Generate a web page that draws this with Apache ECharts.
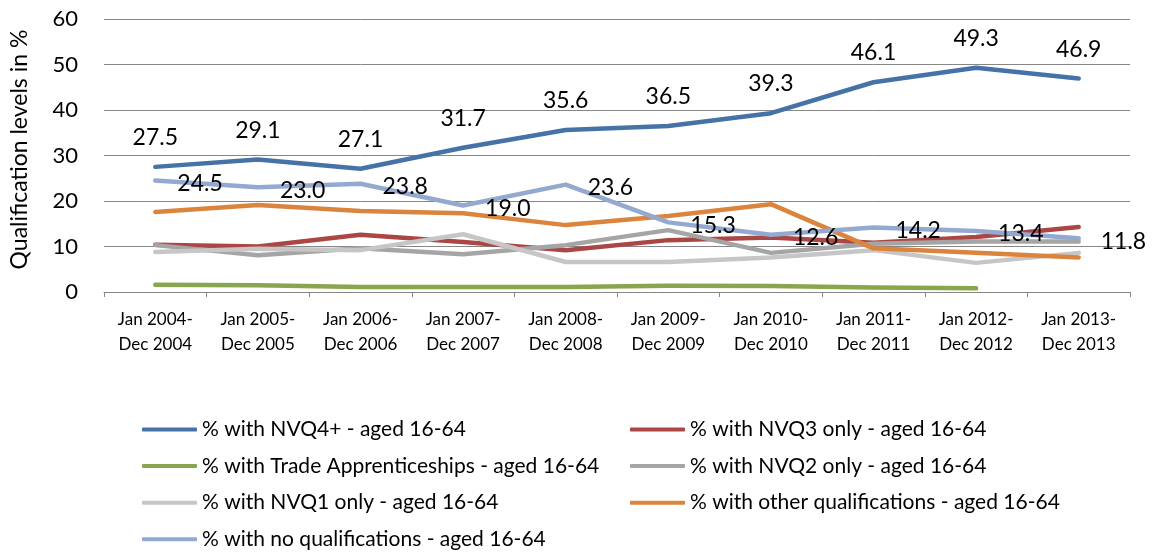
<!DOCTYPE html>
<html>
<head>
<meta charset="utf-8">
<script src="https://cdn.jsdelivr.net/npm/echarts@6/dist/echarts.min.js"></script>
<style>
    html, body { margin: 0; padding: 0; background: #fff; }
    #chart { width: 1155px; height: 552px; }
</style>
</head>
<body>
<div id="chart"></div>
<script>
// qualification levels, 16-64 year olds
var categories = ['Jan 2004-\nDec 2004', 'Jan 2005-\nDec 2005', 'Jan 2006-\nDec 2006', 'Jan 2007-\nDec 2007',
    'Jan 2008-\nDec 2008', 'Jan 2009-\nDec 2009', 'Jan 2010-\nDec 2010', 'Jan 2011-\nDec 2011',
    'Jan 2012-\nDec 2012', 'Jan 2013-\nDec 2013'];
var nvq4 = [27.5, 29.1, 27.1, 31.7, 35.6, 36.5, 39.3, 46.1, 49.3, 46.9];
var nvq3 = [10.4, 10.0, 12.6, 11.0, 9.2, 11.4, 12.0, 10.8, 12.1, 14.3];
var trade = [1.6, 1.5, 1.1, 1.1, 1.1, 1.4, 1.3, 1.0, 0.8, null];
var nvq2 = [10.3, 8.1, 9.6, 8.3, 10.3, 13.6, 8.6, 10.6, 11.1, 11.1];
var nvq1 = [8.8, 9.5, 9.2, 12.7, 6.6, 6.6, 7.6, 9.2, 6.4, 8.6];
var other = [17.6, 19.1, 17.8, 17.3, 14.7, 16.7, 19.3, 9.6, 8.6, 7.6];
var noqual = [24.5, 23.0, 23.8, 19.0, 23.6, 15.3, 12.6, 14.2, 13.4, 11.8];
var yTicks = [0, 10, 20, 30, 40, 50, 60];

var names = ['% with NVQ4+ - aged 16-64', '% with NVQ3 only - aged 16-64',
    '% with Trade Apprenticeships - aged 16-64', '% with NVQ2 only - aged 16-64',
    '% with NVQ1 only - aged 16-64', '% with other qualifications - aged 16-64',
    '% with no qualifications - aged 16-64'];
var colors = ['#4572A7', '#AA4643', '#89A54E', '#A5A5A5', '#C6C6C6', '#DB843D', '#93A9CF'];
var values = [nvq4, nvq3, trade, nvq2, nvq1, other, noqual];

var font = 'Lato, "Liberation Sans", sans-serif';

function fmt(p) {
    return p.value.toFixed(1);
}

var series = [];
for (var i = 0; i < values.length; i++) {
    var s = {
        name: names[i],
        type: 'line',
        data: values[i],
        symbol: 'none',
        smooth: false,
        animation: false,
        lineStyle: { width: 4.5, color: colors[i], cap: 'round', join: 'round' },
        itemStyle: { color: colors[i] }
    };
    if (i == 0 || i == 6) {
        // labels need a symbol, keep it invisible
        s.symbol = 'circle';
        s.symbolSize = 0;
        s.showSymbol = true;
        s.label = { show: true, position: 'top', distance: 18, formatter: fmt,
            fontFamily: font, fontSize: 23, color: '#000' };
        if (i == 6) {
            s.label.position = 'right';
            s.label.distance = 22;
            s.label.offset = [0, 3];
        }
    }
    series.push(s);
}

var legendBase = {
    orient: 'vertical',
    top: 419,
    padding: 0,
    icon: 'roundRect',
    itemWidth: 55,
    itemHeight: 4,
    itemGap: 15.6,
    textStyle: { fontFamily: font, fontSize: 21, lineHeight: 20, color: '#000' }
};

var option = {
    animation: false,
    color: colors,
    grid: { left: 97, right: 25, top: 19, bottom: 260 },
    legend: [
        Object.assign({}, legendBase, { left: 142, data: [names[0], names[2], names[4], names[6]] }),
        Object.assign({}, legendBase, { left: 630, data: [names[1], names[3], names[5]] })
    ],
    xAxis: {
        type: 'category',
        data: categories,
        boundaryGap: true,
        axisLine: { lineStyle: { color: '#868686', width: 1 } },
        axisTick: { show: true, length: 5, lineStyle: { color: '#868686' } },
        axisLabel: { fontFamily: font, fontSize: 17, lineHeight: 25, color: '#000', margin: 15, interval: 0 }
    },
    yAxis: {
        type: 'value',
        min: yTicks[0],
        max: yTicks[yTicks.length - 1],
        interval: 10,
        name: 'Qualification levels in %',
        nameLocation: 'middle',
        nameGap: 73,
        nameTextStyle: { fontFamily: font, fontSize: 23, color: '#000', padding: [0, 0, 0, 12] },
        axisLine: { show: false },
        axisTick: { show: false },
        axisLabel: { fontFamily: font, fontSize: 22, color: '#000', margin: 26 },
        splitLine: { lineStyle: { color: '#868686', width: 1 } }
    },
    series: series
};

echarts.init(document.getElementById('chart')).setOption(option);
</script>
</body>
</html>
